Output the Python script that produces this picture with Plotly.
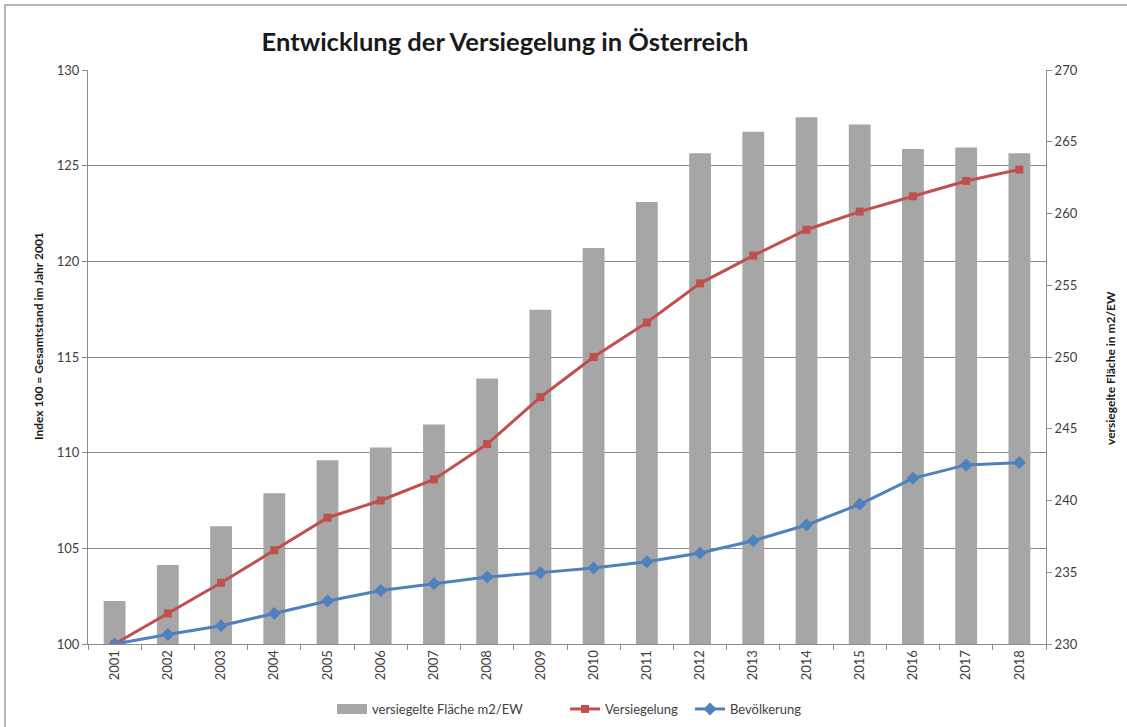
import plotly.graph_objects as go

years = [str(y) for y in range(2001, 2019)]
flaeche = [233.0, 235.5, 238.2, 240.5, 242.8, 243.7, 245.3, 248.5, 253.3, 257.6,
           260.8, 264.2, 265.7, 266.7, 266.2, 264.5, 264.6, 264.2]
versiegelung = [100.0, 101.6, 103.2, 104.9, 106.6, 107.5, 108.6, 110.45, 112.9, 115.0,
                116.8, 118.85, 120.3, 121.65, 122.6, 123.4, 124.2, 124.8]
bevoelkerung = [100.0, 100.5, 100.95, 101.6, 102.25, 102.8, 103.15, 103.5, 103.73, 103.97,
                104.3, 104.76, 105.4, 106.22, 107.3, 108.66, 109.36, 109.48]

FONT = "Lato"
GRID = "#8c8c8c"
TXT = "#404040"
BARC = "#a6a6a6"

W, H = 1127, 727
L, R, T, B = 88, 81, 70, 83
PW, PH = W - L - R, H - T - B


def px(x):
    return (x - L) / PW


def py(y):
    return (H - B - y) / PH


fig = go.Figure()
fig.add_trace(go.Bar(x=years, y=flaeche, name="versiegelte Fläche m2/EW",
                     marker=dict(color=BARC, line=dict(width=0)),
                     width=0.41, yaxis="y", showlegend=False))
# legend entry for bars (wide rectangle like the original)
fig.add_trace(go.Scatter(x=[None], y=[None], name="versiegelte Fläche m2/EW", mode="lines",
                         line=dict(color=BARC, width=10), yaxis="y", showlegend=True,
                         legend="legend"))
fig.add_trace(go.Scatter(x=years, y=versiegelung, name="Versiegelung", mode="lines+markers",
                         line=dict(color="#c0504d", width=3),
                         marker=dict(symbol="square", size=8, color="#c0504d"),
                         yaxis="y2", legend="legend2"))
fig.add_trace(go.Scatter(x=years, y=bevoelkerung, name="Bevölkerung", mode="lines+markers",
                         line=dict(color="#4f81bd", width=3),
                         marker=dict(symbol="diamond", size=10, color="#4f81bd"),
                         yaxis="y2", legend="legend3"))

leg_common = dict(orientation="h", xanchor="left", y=py(709), yanchor="middle",
                  font=dict(size=13, color=TXT), itemwidth=30, bgcolor="rgba(0,0,0,0)")

fig.update_layout(
    width=W, height=H,
    margin=dict(l=L, r=R, t=T, b=B, autoexpand=False),
    paper_bgcolor="white", plot_bgcolor="white",
    font=dict(family=FONT, size=12, color=TXT),
    title=dict(text="<b>Entwicklung der Versiegelung in Österreich</b>",
               x=505 / W, xanchor="center", y=1 - 42 / H, yanchor="middle",
               font=dict(family=FONT, size=25.5, color="#1a1a1a")),
    showlegend=True,
    legend=dict(x=px(332), **leg_common),
    legend2=dict(x=px(565), **leg_common),
    legend3=dict(x=px(690), **leg_common),
    xaxis=dict(type="category", range=[-0.5, 17.5], automargin=False,
               showline=True, linecolor=GRID, linewidth=1,
               ticks="outside", ticklen=5, tickcolor=GRID, tickson="boundaries",
               tickangle=-90, showgrid=False, tickfont=dict(size=13, color=TXT)),
    yaxis=dict(side="right", range=[230, 270], dtick=5, showgrid=False, automargin=False,
               showline=True, linecolor=GRID, linewidth=1,
               ticks="outside", ticklen=5, tickcolor=GRID, tickfont=dict(size=13),
               zeroline=False),
    yaxis2=dict(side="left", overlaying="y", range=[100, 130], dtick=5, automargin=False,
                showgrid=True, gridcolor=GRID, gridwidth=1,
                showline=True, linecolor=GRID, linewidth=1,
                ticks="outside", ticklen=5, tickcolor=GRID, tickfont=dict(size=13),
                zeroline=False),
)

# axis titles
fig.add_annotation(text="<b>Index 100 = Gesamtstand im Jahr 2001</b>", xref="paper", yref="paper",
                   x=px(38), y=py(336), textangle=-90, showarrow=False,
                   font=dict(size=12, color="#1a1a1a"), xanchor="center", yanchor="middle")
fig.add_annotation(text="<b>versiegelte Fläche in m2/EW</b>", xref="paper", yref="paper",
                   x=px(1110), y=py(368), textangle=-90, showarrow=False,
                   font=dict(size=12, color="#1a1a1a"), xanchor="center", yanchor="middle")

# outer chart frame
fig.add_shape(type="rect", xref="paper", yref="paper",
              x0=px(5), x1=px(1140), y0=py(745), y1=py(5),
              line=dict(color="#a0a0a0", width=1.5), fillcolor="rgba(0,0,0,0)", layer="below")

fig.write_html("out.html", config={"displayModeBar": False},
               post_script="document.body.style.margin='0';")
